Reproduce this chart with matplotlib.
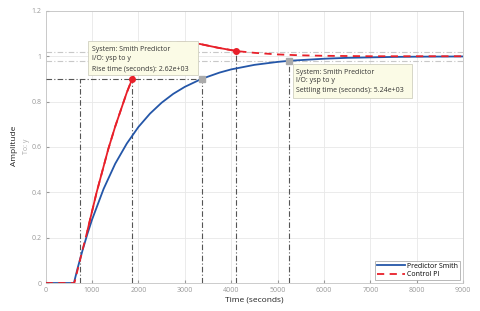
import matplotlib.pyplot as plt
from matplotlib.patches import Rectangle
import numpy as np

plt.rcParams['font.family'] = ['Open Sans', 'DejaVu Sans']

# step response
t_smith = [0, 610, 700, 800, 900, 1000, 1250, 1500, 1750, 2000, 2250, 2500, 2750, 3000,
           3360, 3750, 4000, 4500, 5000, 5250, 5500, 6000, 6500, 7000, 7500, 8000, 9000]
y_smith = [0, 0, 0.073, 0.147, 0.216, 0.279, 0.415, 0.526, 0.615, 0.688, 0.747, 0.795, 0.834, 0.865,
           0.900, 0.928, 0.942, 0.962, 0.975, 0.980, 0.983, 0.989, 0.993, 0.995, 0.997, 0.998, 0.999]

t_pi = [0, 620, 740, 900, 1100, 1350, 1500, 1650, 1750, 1866, 2000, 2200, 2400, 2700, 3000, 3330, 3700,
        4110, 4500, 5000, 5500, 6000, 6500, 7000, 8000, 9000]
y_pi = [0, 0, 0.10, 0.23, 0.40, 0.59, 0.69, 0.78, 0.84, 0.90, 0.96, 1.015, 1.045, 1.06, 1.06, 1.054, 1.038,
        1.023, 1.015, 1.008, 1.004, 1.002, 1.001, 1.0, 1.0, 1.0]

# characteristics
rise_smith = (736, 3360)
settle_smith = 5250
rise_pi = (740, 1866)
settle_pi = (4110, 1.023)

blue = '#2456a8'
red = '#e8202a'
dark = '#555555'
light = '#c8c8c8'

fig = plt.figure(figsize=(4.8, 3.11), dpi=100)
ax = fig.add_axes([0.095, 0.09, 0.87, 0.875])

ax.plot(t_smith, y_smith, color=blue, lw=1.3, label='Predictor Smith', zorder=4)
ax.plot(t_pi, y_pi, color=red, lw=1.3, ls=(0, (4, 3)), label='Control PI', zorder=4)

tp = np.array(t_pi)
yp = np.array(y_pi)
m1 = (tp >= 900) & (tp <= rise_pi[1])
m2 = (tp >= 3000) & (tp <= settle_pi[0])
ax.plot(tp[m1], yp[m1], color=red, lw=1.3, zorder=4)
ax.plot(tp[m2], yp[m2], color=red, lw=1.3, zorder=4)

# characteristic guide lines
dd = dict(color=dark, lw=0.8, ls=(0, (5, 2, 1, 2)), zorder=3)
ax.plot([0, rise_smith[1]], [0.9, 0.9], **dd)
for x in [rise_smith[0], rise_pi[1], rise_smith[1]]:
    ax.plot([x, x], [0, 0.9], **dd)
ax.plot([settle_pi[0]] * 2, [0, settle_pi[1]], **dd)
ax.plot([settle_smith] * 2, [0, 0.98], **dd)
for yb in [1.02, 0.98]:
    ax.axhline(yb, color=light, lw=0.8, ls=(0, (5, 2, 1, 2)), zorder=2)

ax.plot(rise_smith[1], 0.9, 's', color='#aaaaaa', ms=4, zorder=5)
ax.plot(settle_smith, 0.98, 's', color='#aaaaaa', ms=4, zorder=5)
ax.plot(rise_pi[1], 0.9, 'o', color=red, ms=4, zorder=5)
ax.plot(settle_pi[0], settle_pi[1], 'o', color=red, ms=4, zorder=5)

# data tips
ax.add_patch(Rectangle((918, 0.9175), 2371, 0.1495, facecolor='#fbfbe6',
                       edgecolor='#d0d0c0', lw=0.6, zorder=6))
for yy, s in zip([1.031, 0.988, 0.945],
                 ['System: Smith Predictor', 'I/O: ysp to y', 'Rise time (seconds): 2.62e+03']):
    ax.text(991, yy, s, fontsize=5, color='#333333', va='center', ha='left', zorder=7)
ax.add_patch(Rectangle((5336, 0.815), 2565, 0.15, facecolor='#fbfbe6',
                       edgecolor='#d0d0c0', lw=0.6, zorder=6))
for yy, s in zip([0.929, 0.891, 0.848],
                 ['System: Smith Predictor', 'I/O: ysp to y', 'Settling time (seconds): 5.24e+03']):
    ax.text(5394, yy, s, fontsize=5, color='#333333', va='center', ha='left', zorder=7)

ax.set_xlim(0, 9000)
ax.set_ylim(0, 1.2)
ax.set_xticks(np.arange(0, 9001, 1000))
ax.set_yticks([0, 0.2, 0.4, 0.6, 0.8, 1.0, 1.2])
ax.set_yticklabels(['0', '0.2', '0.4', '0.6', '0.8', '1', '1.2'])
ax.tick_params(labelsize=5, colors='#999999', length=2, direction='in', pad=3)
ax.grid(True, color='#e8e8e8', lw=0.6, zorder=0)
for s in ax.spines.values():
    s.set_color('#c4c4c4')
    s.set_linewidth(0.6)

ax.set_xlabel('Time (seconds)', fontsize=6, color='#222222', labelpad=2)
fig.text(0.031, 0.53, 'Amplitude', rotation=90, fontsize=6, color='#222222', ha='center', va='center')
fig.text(0.055, 0.53, 'To: y', rotation=90, fontsize=5, color='#aaaaaa', ha='center', va='center')

leg = ax.legend(loc='lower right', fontsize=5, handlelength=4, frameon=True, fancybox=False,
                borderaxespad=0.4, borderpad=0.3, labelspacing=0.2, handletextpad=0.3)
leg.get_frame().set_edgecolor('#999999')
leg.get_frame().set_linewidth(0.6)
leg.set_zorder(8)

fig.savefig('out.png', dpi=100)
